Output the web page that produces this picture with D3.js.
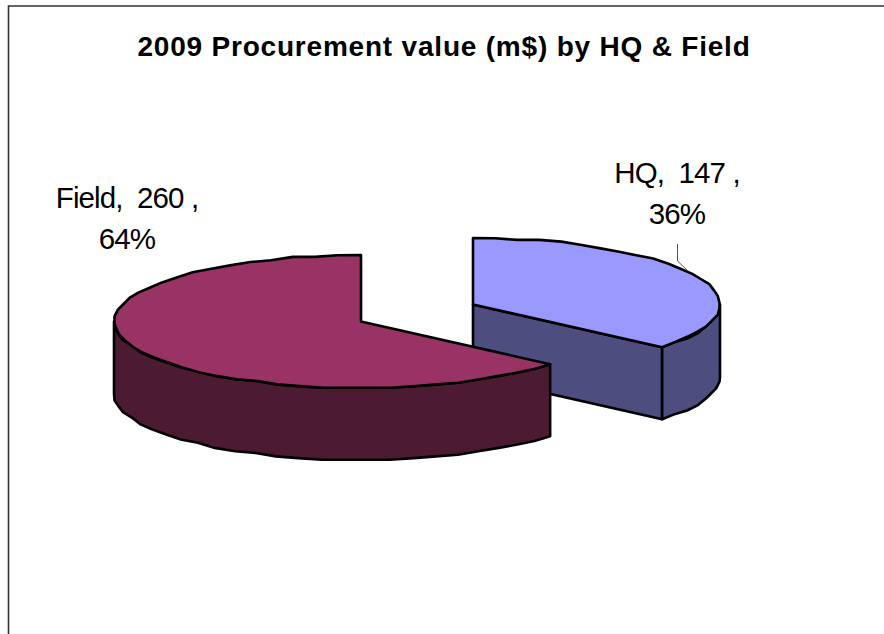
<!DOCTYPE html>
<html><head><meta charset="utf-8">
<style>html,body{margin:0;padding:0;background:#fff}svg{display:block}text{font-family:"Liberation Sans",Arial,sans-serif;fill:#000;white-space:pre}</style>
<script src="https://cdn.jsdelivr.net/npm/d3@7"></script></head>
<body><svg id="c" width="884" height="634"></svg>
<script>
const titleText = "2009 Procurement value (m$) by HQ & Field";
const categories = ["HQ", "Field"];
const values = [147, 260];
const percents = ["36%", "64%"];
const topColors = ["#9999ff", "#993366"];
const sideColors = ["#4d4d80", "#4d1a33"];

const svg = d3.select("#c");
svg.append("path").attr("d", "M8.5,634V6H884").attr("fill", "none").attr("stroke", "#333").attr("stroke-width", 1.6);

const rx = 247, ry = 66.5, depth = 72, grid = 1.7, steps = 34;
const centers = [[473, 304.5], [361, 321.5]];
const arcs = d3.pie().sort(null).value(d => d)(values);
const snap = v => Math.round(v / grid) * grid;

// Rim of the slice, sampled then snapped to a fine grid: this gives the scalloped edge of the source.
function rimPoints(c, a0, a1, dy) {
  const n = Math.max(2, Math.round((a1 - a0) / Math.PI * steps));
  return d3.range(n + 1).map(k => {
    const a = a0 + (a1 - a0) * k / n;
    const ox = rx * Math.sin(a), oy = -ry * Math.cos(a);
    return (k === 0 || k === n)
      ? [c[0] + ox, c[1] + oy + dy]
      : [c[0] + snap(ox), c[1] + snap(oy) + dy];
  });
}
const line = d3.line();
const strokeColor = "#000", strokeW = 2.6;
function draw(i) {
  const c = centers[i], d = arcs[i];
  const g = svg.append("g").attr("stroke", strokeColor).attr("stroke-width", strokeW).attr("stroke-linejoin", "round");
  const side = sideColors[i], top = topColors[i];
  const rimTop = rimPoints(c, d.startAngle, d.endAngle, 0);
  if (i === 0) {
    const e = rimTop[rimTop.length - 1];
    g.append("path").attr("fill", side).attr("d", line([c, e, [e[0], e[1] + depth], [c[0], c[1] + depth]]) + "Z");
    const upper = rimPoints(c, Math.PI / 2, d.endAngle, 0);
    const lower = rimPoints(c, Math.PI / 2, d.endAngle, depth).reverse();
    g.append("path").attr("fill", side).attr("d", line(upper.concat(lower)) + "Z");
  } else {
    const upper = rimPoints(c, d.startAngle, 1.5 * Math.PI, 0);
    const lower = rimPoints(c, d.startAngle, 1.5 * Math.PI, depth).reverse();
    g.append("path").attr("fill", side).attr("d", line(upper.concat(lower)) + "Z");
  }
  g.append("path").attr("fill", top).attr("d", line([c].concat(rimTop)) + "Z");
}
draw(0); draw(1);

svg.append("text").attr("x", 444).attr("y", 56).attr("text-anchor", "middle")
  .attr("font-size", 28).attr("font-weight", "bold").attr("letter-spacing", 0.8).text(titleText);

svg.append("polyline").attr("points", "677.5,244 677.5,261 688,271").attr("fill", "none").attr("stroke", "#555").attr("stroke-width", 1);

const labelPos = [[677, 183, 224], [127, 208, 249]];
categories.forEach((cat, i) => {
  const [x, y1, y2] = labelPos[i];
  const t = svg.append("text").attr("text-anchor", "middle").attr("font-size", 29.5).attr("letter-spacing", -0.9);
  t.append("tspan").attr("x", x).attr("y", y1).text(`${cat},  ${values[i]} ,`);
  t.append("tspan").attr("x", x).attr("y", y2).text(percents[i]);
});
</script></body></html>
